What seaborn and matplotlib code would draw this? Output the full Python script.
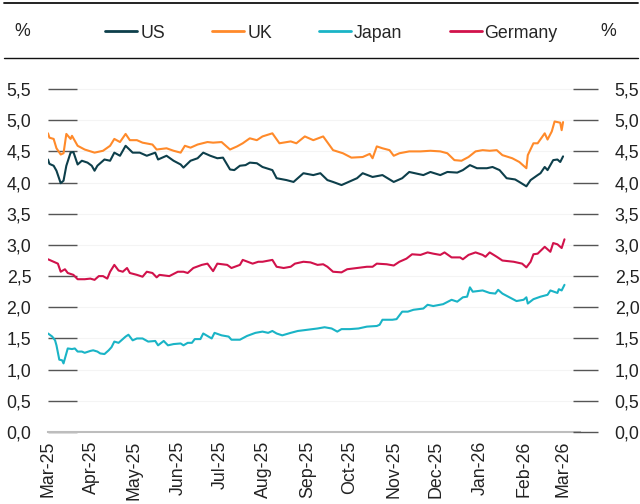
import matplotlib
matplotlib.use("Agg")
import numpy as np
import pandas as pd
import matplotlib.pyplot as plt
import matplotlib.dates as mdates
from matplotlib.lines import Line2D
from matplotlib.ticker import FuncFormatter
import seaborn as sns

START = "2025-03-01"

us_days = [0, 1, 4, 6, 9, 11, 13, 16, 18, 21, 24, 28, 31, 33, 35, 40, 44, 47, 51, 55, 60, 65, 70, 76, 78, 84, 89, 94, 96, 101, 106, 110, 115, 120, 124, 129, 132, 136, 140, 143, 148, 152, 159, 162, 169, 174, 181, 188, 193, 198, 202, 208, 213, 219, 223, 230, 237, 245, 251, 256, 266, 271, 278, 283, 290, 294, 299, 304, 311, 315, 320, 325, 331, 334, 339, 342, 347, 349, 352, 354, 358, 361, 363, 365]
us_vals = [4.37, 4.30, 4.27, 4.19, 3.99, 4.03, 4.27, 4.48, 4.49, 4.29, 4.35, 4.32, 4.27, 4.19, 4.27, 4.37, 4.35, 4.48, 4.43, 4.59, 4.48, 4.48, 4.43, 4.48, 4.37, 4.43, 4.35, 4.29, 4.24, 4.35, 4.39, 4.48, 4.43, 4.39, 4.40, 4.21, 4.20, 4.27, 4.28, 4.32, 4.31, 4.25, 4.20, 4.07, 4.04, 4.01, 4.15, 4.12, 4.15, 4.04, 4.01, 3.96, 4.01, 4.07, 4.15, 4.09, 4.12, 4.01, 4.07, 4.17, 4.12, 4.17, 4.12, 4.17, 4.16, 4.20, 4.28, 4.23, 4.23, 4.25, 4.20, 4.07, 4.05, 4.01, 3.94, 4.04, 4.12, 4.15, 4.25, 4.20, 4.36, 4.37, 4.33, 4.42]

uk_days = [0, 1, 4, 6, 9, 11, 13, 16, 17, 21, 26, 33, 39, 44, 47, 51, 55, 58, 63, 67, 74, 77, 84, 89, 94, 97, 101, 106, 113, 117, 123, 129, 134, 138, 143, 148, 152, 159, 164, 172, 176, 182, 188, 195, 202, 209, 215, 223, 228, 230, 233, 237, 242, 245, 249, 256, 264, 271, 278, 283, 288, 293, 298, 303, 308, 313, 318, 322, 329, 334, 339, 340, 344, 347, 352, 354, 357, 359, 363, 364, 365]
uk_vals = [4.79, 4.72, 4.70, 4.55, 4.45, 4.47, 4.78, 4.70, 4.75, 4.59, 4.53, 4.48, 4.51, 4.59, 4.70, 4.65, 4.78, 4.68, 4.68, 4.64, 4.61, 4.53, 4.55, 4.51, 4.48, 4.59, 4.56, 4.61, 4.65, 4.64, 4.65, 4.53, 4.58, 4.63, 4.71, 4.68, 4.74, 4.79, 4.63, 4.66, 4.63, 4.74, 4.68, 4.74, 4.52, 4.47, 4.40, 4.41, 4.46, 4.39, 4.58, 4.55, 4.52, 4.43, 4.47, 4.50, 4.50, 4.51, 4.50, 4.47, 4.36, 4.35, 4.41, 4.50, 4.52, 4.51, 4.52, 4.44, 4.39, 4.33, 4.23, 4.44, 4.63, 4.63, 4.79, 4.69, 4.82, 4.98, 4.96, 4.84, 4.97]

jp_days = [0, 3, 5, 6, 8, 10, 11, 13, 14, 17, 19, 21, 24, 26, 30, 32, 35, 37, 40, 43, 45, 47, 50, 52, 55, 57, 60, 63, 67, 71, 76, 78, 82, 85, 89, 94, 96, 99, 102, 104, 108, 110, 113, 116, 118, 123, 128, 130, 136, 141, 147, 152, 156, 159, 162, 166, 172, 177, 184, 191, 196, 201, 205, 208, 214, 220, 226, 233, 235, 237, 244, 247, 251, 255, 259, 266, 269, 273, 280, 286, 290, 294, 297, 299, 301, 308, 313, 317, 319, 322, 327, 332, 337, 339, 340, 344, 349, 354, 356, 361, 362, 364, 366]
jp_vals = [1.58, 1.53, 1.47, 1.39, 1.16, 1.15, 1.10, 1.26, 1.34, 1.33, 1.34, 1.29, 1.29, 1.27, 1.30, 1.31, 1.29, 1.26, 1.25, 1.31, 1.36, 1.45, 1.43, 1.47, 1.53, 1.56, 1.47, 1.50, 1.50, 1.45, 1.46, 1.39, 1.46, 1.39, 1.41, 1.42, 1.39, 1.43, 1.43, 1.49, 1.49, 1.58, 1.54, 1.50, 1.59, 1.55, 1.53, 1.48, 1.48, 1.54, 1.59, 1.61, 1.59, 1.62, 1.58, 1.55, 1.59, 1.62, 1.64, 1.66, 1.68, 1.66, 1.61, 1.65, 1.65, 1.66, 1.69, 1.70, 1.72, 1.80, 1.80, 1.81, 1.93, 1.93, 1.96, 1.98, 2.04, 2.02, 2.05, 2.12, 2.09, 2.16, 2.17, 2.32, 2.25, 2.27, 2.23, 2.22, 2.28, 2.22, 2.16, 2.10, 2.12, 2.16, 2.06, 2.13, 2.17, 2.20, 2.27, 2.23, 2.29, 2.27, 2.36]

de_days = [0, 4, 7, 9, 12, 14, 18, 21, 26, 30, 33, 36, 39, 42, 44, 47, 50, 53, 56, 58, 63, 67, 70, 74, 77, 79, 86, 92, 96, 99, 103, 109, 113, 117, 120, 127, 130, 136, 138, 145, 149, 152, 159, 162, 167, 172, 175, 181, 186, 191, 195, 198, 202, 208, 212, 219, 226, 230, 233, 240, 245, 249, 254, 258, 264, 269, 273, 278, 281, 286, 292, 294, 298, 303, 308, 310, 313, 318, 322, 330, 336, 339, 342, 344, 347, 352, 356, 358, 361, 364, 366]
de_vals = [2.77, 2.73, 2.70, 2.57, 2.61, 2.55, 2.52, 2.45, 2.45, 2.46, 2.44, 2.50, 2.50, 2.46, 2.57, 2.68, 2.59, 2.57, 2.63, 2.55, 2.52, 2.49, 2.57, 2.55, 2.48, 2.52, 2.50, 2.57, 2.57, 2.55, 2.63, 2.68, 2.70, 2.58, 2.70, 2.68, 2.63, 2.68, 2.76, 2.70, 2.73, 2.73, 2.76, 2.65, 2.63, 2.65, 2.70, 2.73, 2.72, 2.68, 2.69, 2.65, 2.57, 2.56, 2.61, 2.63, 2.65, 2.65, 2.70, 2.69, 2.67, 2.73, 2.78, 2.85, 2.84, 2.88, 2.86, 2.84, 2.88, 2.80, 2.80, 2.77, 2.84, 2.88, 2.84, 2.81, 2.88, 2.81, 2.75, 2.73, 2.70, 2.64, 2.73, 2.85, 2.86, 2.97, 2.89, 3.03, 3.01, 2.95, 3.09]

countries = ["US", "UK", "Japan", "Germany"]
colors = ["#0d3f4b", "#ff8a2a", "#1ab4c6", "#d1124b"]
y_ticks = [0.0, 0.5, 1.0, 1.5, 2.0, 2.5, 3.0, 3.5, 4.0, 4.5, 5.0, 5.5]

series = {"US": (us_days, us_vals), "UK": (uk_days, uk_vals),
          "Japan": (jp_days, jp_vals), "Germany": (de_days, de_vals)}
frames = []
for name in countries:
    d, v = series[name]
    frames.append(pd.DataFrame({
        "date": pd.Timestamp(START) + pd.to_timedelta(d, unit="D"),
        "value": v, "country": name}))
df = pd.concat(frames, ignore_index=True)

sns.set_style("white")
plt.rcParams["font.family"] = ["Liberation Sans", "DejaVu Sans"]

FS = 12.8
fig = plt.figure(figsize=(6.4, 5.04), dpi=100)
ax = fig.add_axes([48 / 640, 72 / 504, 532 / 640, (432 - 82.8) / 504])

sns.lineplot(data=df, x="date", y="value", hue="country", hue_order=countries,
             palette=colors, estimator=None, sort=True, linewidth=1.5,
             legend=False, ax=ax)

ax.set_xlim(pd.Timestamp("2025-03-01"), pd.Timestamp("2026-03-13"))
ax.set_ylim(0, 5.6)
ax.set_xlabel("")
ax.set_ylabel("")

for s in ["top", "right", "left"]:
    ax.spines[s].set_visible(False)
ax.spines["bottom"].set_color("#bdbdbd")
ax.spines["bottom"].set_linewidth(1.5)

fmt = FuncFormatter(lambda v, p: f"{v:.1f}".replace(".", ","))
ax.set_yticks(y_ticks)
ax.yaxis.set_major_formatter(fmt)
ax.tick_params(axis="y", direction="in", length=21, width=1.0, color="#555555",
               pad=12, labelsize=FS, labelcolor="#222222")
ax.grid(axis="y", color="#f4f4f4", linewidth=0.8)
ax.set_axisbelow(True)

ax.xaxis.set_major_locator(mdates.MonthLocator())
ax.xaxis.set_major_formatter(mdates.DateFormatter("%b-%y"))
ax.tick_params(axis="x", direction="in", length=8.5, width=1.0, color="#333333",
               pad=6, labelsize=FS, labelrotation=90, labelcolor="#222222")

ax2 = ax.twinx()
ax2.set_ylim(ax.get_ylim())
ax2.set_yticks(y_ticks)
ax2.yaxis.set_major_formatter(fmt)
for s in ["top", "left", "bottom", "right"]:
    ax2.spines[s].set_visible(False)
ax2.spines["right"].set_position(("axes", (573 - 48) / 532))
ax2.tick_params(axis="y", direction="out", length=18, width=1.0, color="#555555",
                pad=12, labelsize=FS, labelcolor="#222222")

# header rules and unit labels
fig.add_artist(Line2D([4 / 640, 638 / 640], [1 - 3 / 504, 1 - 3 / 504], color="#111111", lw=1.3))
fig.add_artist(Line2D([4 / 640, 638 / 640], [1 - 58 / 504, 1 - 58 / 504], color="#111111", lw=1.0))
fig.text(22 / 640, 1 - 32 / 504, "%", ha="center", va="center", fontsize=FS, color="#222222")
fig.text(608 / 640, 1 - 32 / 504, "%", ha="center", va="center", fontsize=FS, color="#222222")

handles = [Line2D([0], [0], color=c, lw=2) for c in colors]
fig.legend(handles, countries, loc="center", bbox_to_anchor=(0.518, 1 - 33 / 504),
           ncol=4, frameon=False, fontsize=FS, handlelength=1.8,
           handletextpad=0.17, columnspacing=2.65, borderaxespad=0)

fig.savefig("out.png", dpi=100)
